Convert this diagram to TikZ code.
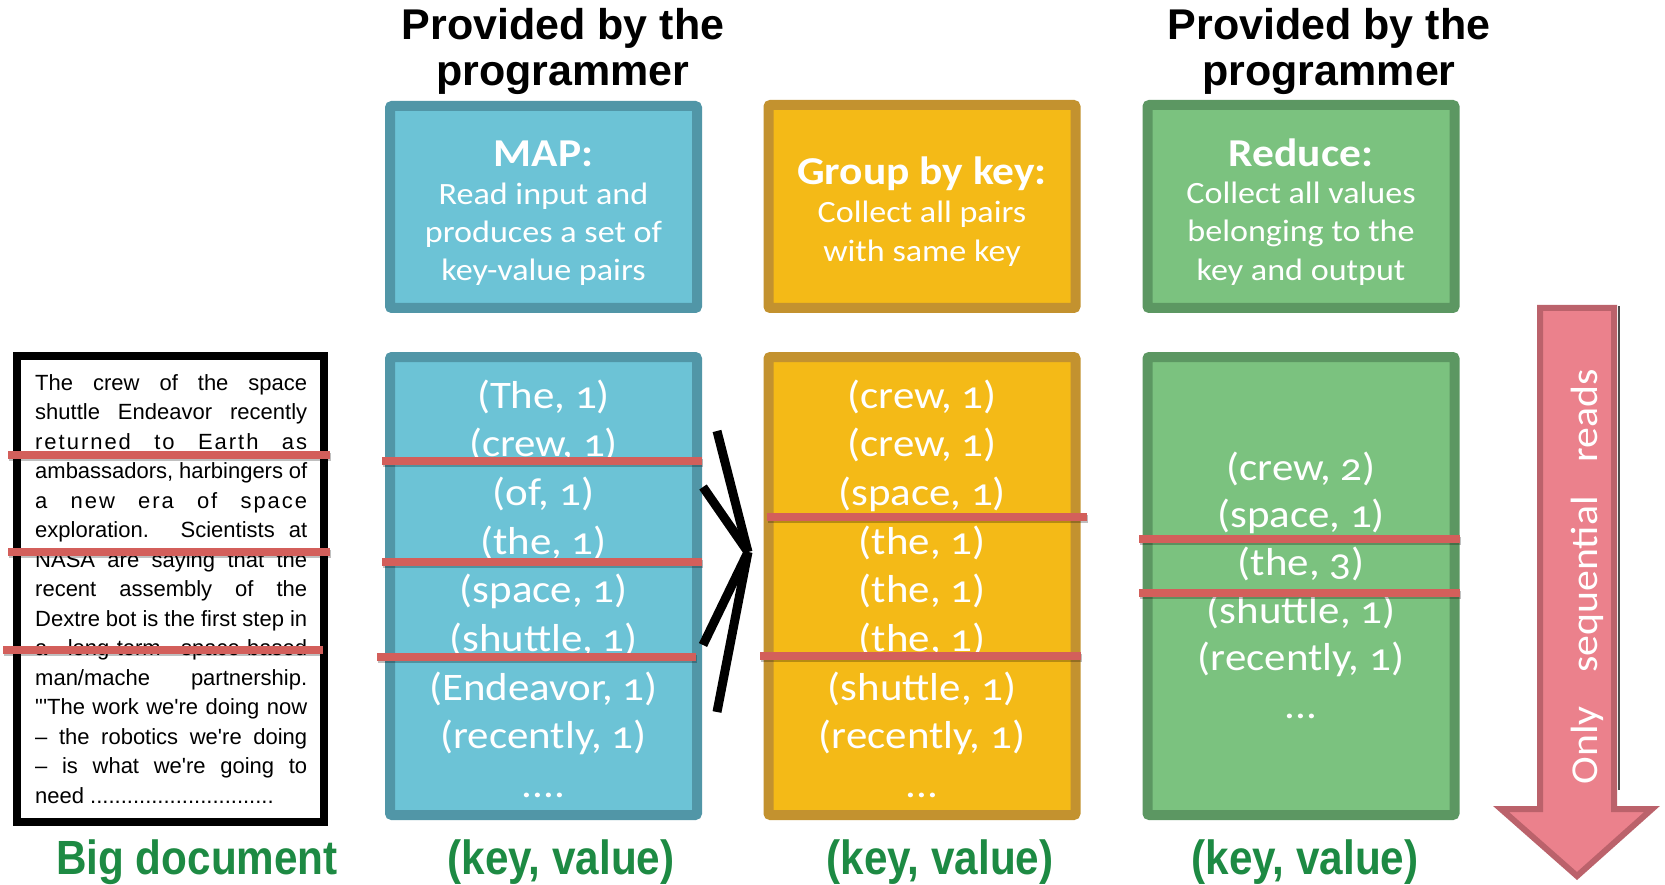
\documentclass[tikz,border=0pt]{standalone}
\usepackage{fontspec}
\newfontfamily\cor{Carlito}[Numbers=OldStyle,FakeStretch=1.1]
\newfontfamily\ars{Liberation Sans}
\newfontfamily\arsls{Liberation Sans}[LetterSpace=9]
\newfontfamily\narr{Liberation Sans}[FakeStretch=0.88]
\definecolor{mapfill}{HTML}{6CC3D6}
\definecolor{mapline}{HTML}{5196A7}
\definecolor{grpfill}{HTML}{F4BA17}
\definecolor{grpline}{HTML}{C3922F}
\definecolor{redfill}{HTML}{7BC27F}
\definecolor{redline}{HTML}{5C9762}
\definecolor{strikec}{HTML}{D35F5B}
\definecolor{arrfill}{HTML}{EB818C}
\definecolor{arrline}{HTML}{BB626B}
\definecolor{lblgreen}{HTML}{1D8A43}
\tikzset{
  box/.style={line width=10pt, rounded corners=2pt, inner sep=0pt, minimum width=307pt},
  mapbox/.style={box, fill=mapfill, draw=mapline},
  grpbox/.style={box, fill=grpfill, draw=grpline},
  redbox/.style={box, fill=redfill, draw=redline},
  docbox/.style={draw=black, fill=white, line width=8pt, inner sep=0pt, minimum width=307pt, minimum height=466pt},
  head/.style={anchor=base, text=white, inner sep=0pt, font=\cor\bfseries\fontsize{39.5}{39.5}\selectfont},
  sub/.style={anchor=base, text=white, inner sep=0pt, font=\cor\fontsize{31}{31}\selectfont},
  item/.style={anchor=base, text=white, inner sep=0pt, font=\cor\fontsize{39}{39}\selectfont},
  title/.style={anchor=base, text=black, inner sep=0pt, font=\ars\bfseries\fontsize{43}{43}\selectfont},
  lbl/.style={anchor=base, text=lblgreen, inner sep=0pt, font=\narr\bfseries\fontsize{48}{48}\selectfont},
  docline/.style={anchor=base west, text=black, inner sep=0pt, font=\ars\fontsize{22}{22}\selectfont},
  strike/.style={draw=strikec, line width=8pt},
  strikeshadow/.style={draw=black, opacity=0.25, line width=8pt},
  conv/.style={draw=black, line width=9pt},
}
\newcommand{\dotsfour}{.\kern0pt.\kern0pt.\kern0pt.}
\newcommand{\dotsthree}{.\kern0pt.\kern0pt.}
\begin{document}
\begin{tikzpicture}[x=1pt,y=-1pt]
\useasboundingbox (0,0) rectangle (1665,885);
\fill[white] (0,0) rectangle (1665,885);

% titles
\node[title] (t1a) at (563,40) {Provided by the};
\node[title] (t1b) at (563,86) {programmer};
\node[title] (t2a) at (1329,40) {Provided by the};
\node[title] (t2b) at (1329,86) {programmer};

% top boxes
\node[mapbox, minimum height=202pt] (maptop) at (543.5,207) {};
\node[grpbox, minimum height=203pt] (grptop) at (922,206.5) {};
\node[redbox, minimum height=203pt] (redtop) at (1301,206.5) {};

\node[head] (maph) at (543.5,167) {MAP:};
\node[sub] (maps1) at (543.5,205) {Read input and};
\node[sub] (maps2) at (543.5,243) {produces a set of};
\node[sub] (maps3) at (543.5,280) {key-value pairs};

\node[head] (grph) at (922,185) {Group by key:};
\node[sub] (grps1) at (922,223) {Collect all pairs};
\node[sub] (grps2) at (922,262) {with same key};

\node[head] (redh) at (1301,167) {Reduce:};
\node[sub] (reds1) at (1301,204) {Collect all values};
\node[sub] (reds2) at (1301,242) {belonging to the};
\node[sub] (reds3) at (1301,280) {key and output};

% bottom boxes
\node[docbox] (doc) at (170.5,589) {};
\node[mapbox, minimum height=458pt] (mapbot) at (543.5,586) {};
\node[grpbox, minimum height=458pt] (grpbot) at (922,586) {};
\node[redbox, minimum height=458pt] (redbot) at (1301,586) {};

% document text
\foreach \t [count=\i from 0] in {
  {The crew of the space},
  {shuttle Endeavor recently},
  {\arsls returned to Earth as},
  {ambassadors, harbingers of},
  {\arsls a new era of space},
  {exploration. Scientists at},
  {NASA are saying that the},
  {recent assembly of the},
  {Dextre bot is the first step in},
  {a long-term space-based},
  {man/mache partnership.},
  {"'The work we're doing now},
  {– the robotics we're doing},
  {– is what we're going to}}
  \node[docline] (d\i) at (35,390+29.5*\i) {\makebox[272pt][s]{\t}};
\node[docline] (d14) at (35,803) {need \dotsfour\dotsfour\dotsfour\dotsfour\dotsfour\dotsfour\dotsfour.\kern0pt.};

% key-value items
\foreach \t [count=\i from 0] in {{(The, 1)},{(crew, 1)},{(of, 1)},{(the, 1)},{(space, 1)},{(shuttle, 1)},{(Endeavor, 1)},{(recently, 1)}}
  \node[item] (m\i) at (543.5,408+48.7*\i) {\t};
\node[item] (m8) at (543.5,797.6) {\dotsfour};
\foreach \t [count=\i from 0] in {{(crew, 1)},{(crew, 1)},{(space, 1)},{(the, 1)},{(the, 1)},{(the, 1)},{(shuttle, 1)},{(recently, 1)}}
  \node[item] (g\i) at (922,408+48.7*\i) {\t};
\node[item] (g8) at (922,797.6) {\dotsthree};
\foreach \t [count=\i from 0] in {{(crew, 2)},{(space, 1)},{(the, 3)},{(shuttle, 1)},{(recently, 1)}}
  \node[item] (r\i) at (1301,480+47.7*\i) {\t};
\node[item] (r5) at (1301,718.5) {\dotsthree};

% strike lines
\foreach \xa/\xb/\yy in {8/330/455, 8/330/552, 3/323/650, 382/702/461, 382/702/562, 377/696/657, 767/1087/517, 760/1081/656, 1139/1460/539, 1139/1460/593}{
  \draw[strikeshadow] (\xa+1,\yy+2) -- (\xb+1,\yy+2);
  \draw[strike] (\xa,\yy) -- (\xb,\yy);
}

% converging lines
\coordinate (apex) at (748,552);
\coordinate (c1) at (717,431);
\coordinate (c2) at (703,487);
\coordinate (c3) at (703,645);
\coordinate (c4) at (717,712);
\draw[conv] (c1) -- (apex);
\draw[conv] (c2) -- (apex);
\draw[conv] (c3) -- (apex);
\draw[conv] (c4) -- (apex);

% big arrow
\draw[black!70, line width=2pt] (1619,306) -- (1619,790);
\draw[fill=arrfill, draw=arrline, line width=6pt, line join=miter]
  (1540,308) -- (1614,308) -- (1614,809) -- (1652,809) -- (1577,876) -- (1501,809) -- (1540,809) -- cycle;
\node[rotate=90, anchor=base, text=white, inner sep=0pt, font=\cor\fontsize{38}{38}\selectfont] (seq) at (1597,577) {\makebox[415pt][s]{Only sequential reads}};

% bottom labels
\node[lbl] (l0) at (197,874) {Big document};
\node[lbl] (l1) at (561,874) {(key, value)};
\node[lbl] (l2) at (940,874) {(key, value)};
\node[lbl] (l3) at (1305,874) {(key, value)};
\end{tikzpicture}
\end{document}
